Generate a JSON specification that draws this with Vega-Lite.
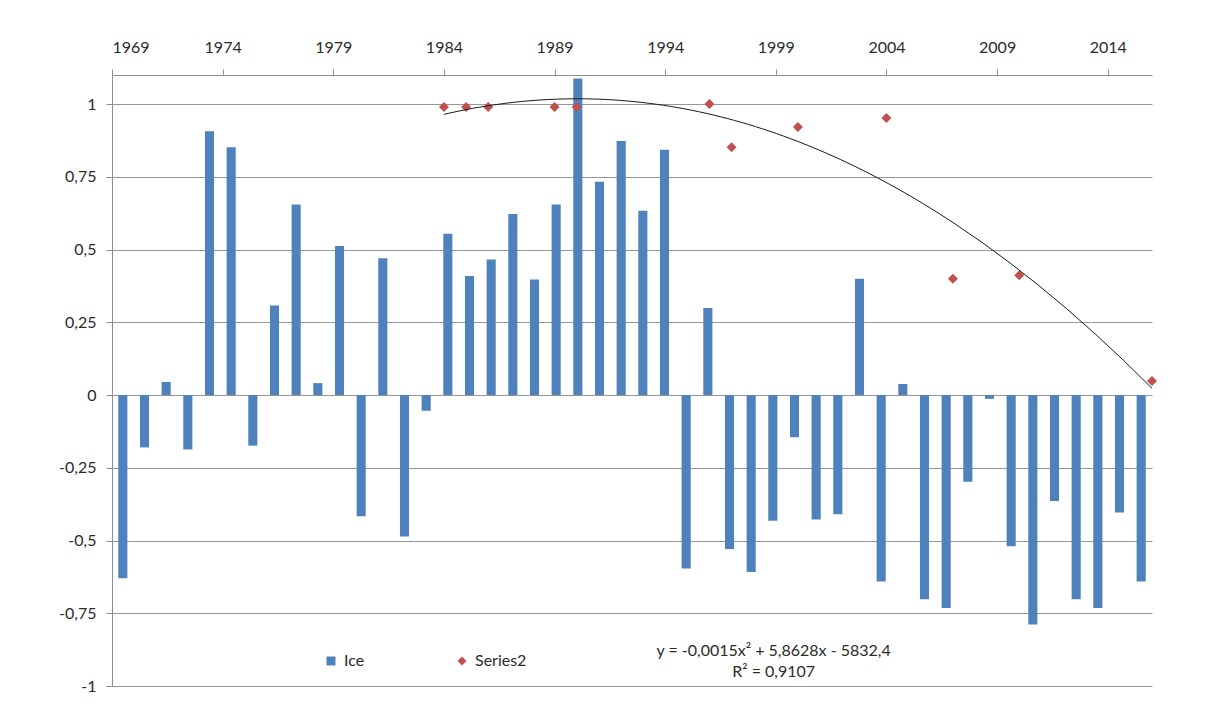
{
  "$schema": "https://vega.github.io/schema/vega-lite/v6.json",
  "width": 1040,
  "height": 611,
  "autosize": {"type": "none"},
  "padding": {"left": 112, "top": 75, "right": 54, "bottom": 36},
  "background": "white",
  "config": {
    "view": {"stroke": null},
    "font": "Lato",
    "axis": {"labelFont": "Lato", "labelFontSize": 16, "labelColor": "#2b2b2b", "domainColor": "#8f8f8f", "tickColor": "#8f8f8f", "gridColor": "#969696", "tickSize": 6},
    "legend": {"labelFont": "Lato", "labelFontSize": 16, "labelColor": "#2b2b2b"}
  },
  "datasets": {
    "ice": [
      {"year": 1969, "value": -0.630, "series": "Ice"},
      {"year": 1970, "value": -0.180, "series": "Ice"},
      {"year": 1971, "value": 0.045, "series": "Ice"},
      {"year": 1972, "value": -0.187, "series": "Ice"},
      {"year": 1973, "value": 0.907, "series": "Ice"},
      {"year": 1974, "value": 0.852, "series": "Ice"},
      {"year": 1975, "value": -0.174, "series": "Ice"},
      {"year": 1976, "value": 0.308, "series": "Ice"},
      {"year": 1977, "value": 0.655, "series": "Ice"},
      {"year": 1978, "value": 0.041, "series": "Ice"},
      {"year": 1979, "value": 0.512, "series": "Ice"},
      {"year": 1980, "value": -0.417, "series": "Ice"},
      {"year": 1981, "value": 0.470, "series": "Ice"},
      {"year": 1982, "value": -0.486, "series": "Ice"},
      {"year": 1983, "value": -0.054, "series": "Ice"},
      {"year": 1984, "value": 0.554, "series": "Ice"},
      {"year": 1985, "value": 0.409, "series": "Ice"},
      {"year": 1986, "value": 0.466, "series": "Ice"},
      {"year": 1987, "value": 0.622, "series": "Ice"},
      {"year": 1988, "value": 0.397, "series": "Ice"},
      {"year": 1989, "value": 0.655, "series": "Ice"},
      {"year": 1990, "value": 1.088, "series": "Ice"},
      {"year": 1991, "value": 0.733, "series": "Ice"},
      {"year": 1992, "value": 0.873, "series": "Ice"},
      {"year": 1993, "value": 0.633, "series": "Ice"},
      {"year": 1994, "value": 0.843, "series": "Ice"},
      {"year": 1995, "value": -0.596, "series": "Ice"},
      {"year": 1996, "value": 0.299, "series": "Ice"},
      {"year": 1997, "value": -0.529, "series": "Ice"},
      {"year": 1998, "value": -0.608, "series": "Ice"},
      {"year": 1999, "value": -0.432, "series": "Ice"},
      {"year": 2000, "value": -0.145, "series": "Ice"},
      {"year": 2001, "value": -0.428, "series": "Ice"},
      {"year": 2002, "value": -0.410, "series": "Ice"},
      {"year": 2003, "value": 0.400, "series": "Ice"},
      {"year": 2004, "value": -0.641, "series": "Ice"},
      {"year": 2005, "value": 0.038, "series": "Ice"},
      {"year": 2006, "value": -0.702, "series": "Ice"},
      {"year": 2007, "value": -0.732, "series": "Ice"},
      {"year": 2008, "value": -0.298, "series": "Ice"},
      {"year": 2009, "value": -0.013, "series": "Ice"},
      {"year": 2010, "value": -0.520, "series": "Ice"},
      {"year": 2011, "value": -0.789, "series": "Ice"},
      {"year": 2012, "value": -0.364, "series": "Ice"},
      {"year": 2013, "value": -0.702, "series": "Ice"},
      {"year": 2014, "value": -0.732, "series": "Ice"},
      {"year": 2015, "value": -0.404, "series": "Ice"},
      {"year": 2016, "value": -0.641, "series": "Ice"}
    ],
    "s2": [
      {"year": 1984, "value": 0.99, "series": "Series2"},
      {"year": 1985, "value": 0.99, "series": "Series2"},
      {"year": 1986, "value": 0.99, "series": "Series2"},
      {"year": 1989, "value": 0.99, "series": "Series2"},
      {"year": 1990, "value": 0.99, "series": "Series2"},
      {"year": 1996, "value": 1.0, "series": "Series2"},
      {"year": 1997, "value": 0.852, "series": "Series2"},
      {"year": 2000, "value": 0.921, "series": "Series2"},
      {"year": 2004, "value": 0.952, "series": "Series2"},
      {"year": 2007, "value": 0.40, "series": "Series2"},
      {"year": 2010, "value": 0.412, "series": "Series2"},
      {"year": 2016, "value": 0.048, "series": "Series2"}
    ]
  },
  "layer": [
    {
      "data": {"name": "ice"},
      "mark": {"type": "bar"},
      "encoding": {
        "x": {"field": "year", "type": "ordinal", "scale": {"paddingInner": 0.58, "paddingOuter": 0.29}, "axis": null},
        "y": {
          "field": "value", "type": "quantitative",
          "scale": {"domain": [-1, 1.1], "nice": false, "zero": false},
          "axis": {"title": null, "values": [-1, -0.75, -0.5, -0.25, 0, 0.25, 0.5, 0.75, 1], "labelExpr": "(datum.value < 0 ? '-' : '') + replace(format(abs(datum.value), '~g'), '.', ',')", "labelPadding": 10, "grid": true, "domain": true}
        },
        "color": {
          "field": "series", "type": "nominal",
          "scale": {"domain": ["Ice", "Series2"], "range": ["#4F81BD", "#C0504D"]},
          "legend": {"title": null, "orient": "none", "legendX": 211, "legendY": 578, "direction": "horizontal", "columnPadding": 89, "symbolSize": 80, "labelOffset": 5, "padding": 0, "symbolStrokeWidth": 0, "symbolOpacity": 1}
        }
      }
    },
    {
      "data": {"name": "s2"},
      "layer": [
        {
          "mark": {"type": "point", "filled": true, "size": 100, "opacity": 1},
          "encoding": {
            "x": {"field": "year", "type": "quantitative", "scale": {"domain": [1969, 2016], "nice": false, "zero": false},
              "axis": {"orient": "top", "title": null, "values": [1969, 1974, 1979, 1984, 1989, 1994, 1999, 2004, 2009, 2014], "format": "d", "labelPadding": 14, "grid": false}},
            "y": {"field": "value", "type": "quantitative", "scale": {"domain": [-1, 1.1], "nice": false, "zero": false},
              "axis": {"title": null, "values": [-1, -0.75, -0.5, -0.25, 0, 0.25, 0.5, 0.75, 1], "labelExpr": "(datum.value < 0 ? '-' : '') + replace(format(abs(datum.value), '~g'), '.', ',')", "labelPadding": 10, "grid": true, "domain": true}},
            "color": {"field": "series", "type": "nominal", "scale": {"domain": ["Ice", "Series2"], "range": ["#4F81BD", "#C0504D"]}},
            "shape": {
              "field": "series", "type": "nominal",
              "scale": {"domain": ["Ice", "Series2"], "range": ["square", "diamond"]},
              "legend": {"title": null, "orient": "none", "legendX": 211, "legendY": 578, "direction": "horizontal", "columnPadding": 89, "symbolSize": 80, "labelOffset": 5, "padding": 0, "symbolStrokeWidth": 0, "symbolOpacity": 1}
            }
          }
        },
        {
          "transform": [{"regression": "value", "on": "year", "method": "poly", "order": 2}],
          "mark": {"type": "line", "color": "#1a1a1a", "strokeWidth": 1},
          "encoding": {
            "x": {"field": "year", "type": "quantitative", "scale": {"domain": [1969, 2016], "nice": false, "zero": false}},
            "y": {"field": "value", "type": "quantitative", "scale": {"domain": [-1, 1.1], "nice": false, "zero": false},
              "axis": {"title": null, "values": [-1, -0.75, -0.5, -0.25, 0, 0.25, 0.5, 0.75, 1], "labelExpr": "(datum.value < 0 ? '-' : '') + replace(format(abs(datum.value), '~g'), '.', ',')", "labelPadding": 10, "grid": true, "domain": true}}
          }
        },
        {
          "data": {"values": [{}]},
          "mark": {"type": "text", "align": "center", "baseline": "middle", "fontSize": 16, "font": "Lato", "color": "#2b2b2b", "lineHeight": 21},
          "encoding": {
            "x": {"datum": 1998.9, "type": "quantitative"},
            "y": {"datum": -0.880, "type": "quantitative",
              "axis": {"title": null, "values": [-1, -0.75, -0.5, -0.25, 0, 0.25, 0.5, 0.75, 1], "labelExpr": "(datum.value < 0 ? '-' : '') + replace(format(abs(datum.value), '~g'), '.', ',')", "labelPadding": 10, "grid": true, "domain": true}},
            "text": {"value": ["y = -0,0015x² + 5,8628x - 5832,4", "R² = 0,9107"]}
          }
        }
      ]
    }
  ],
  "resolve": {"scale": {"x": "independent"}, "axis": {"x": "independent"}}
}
